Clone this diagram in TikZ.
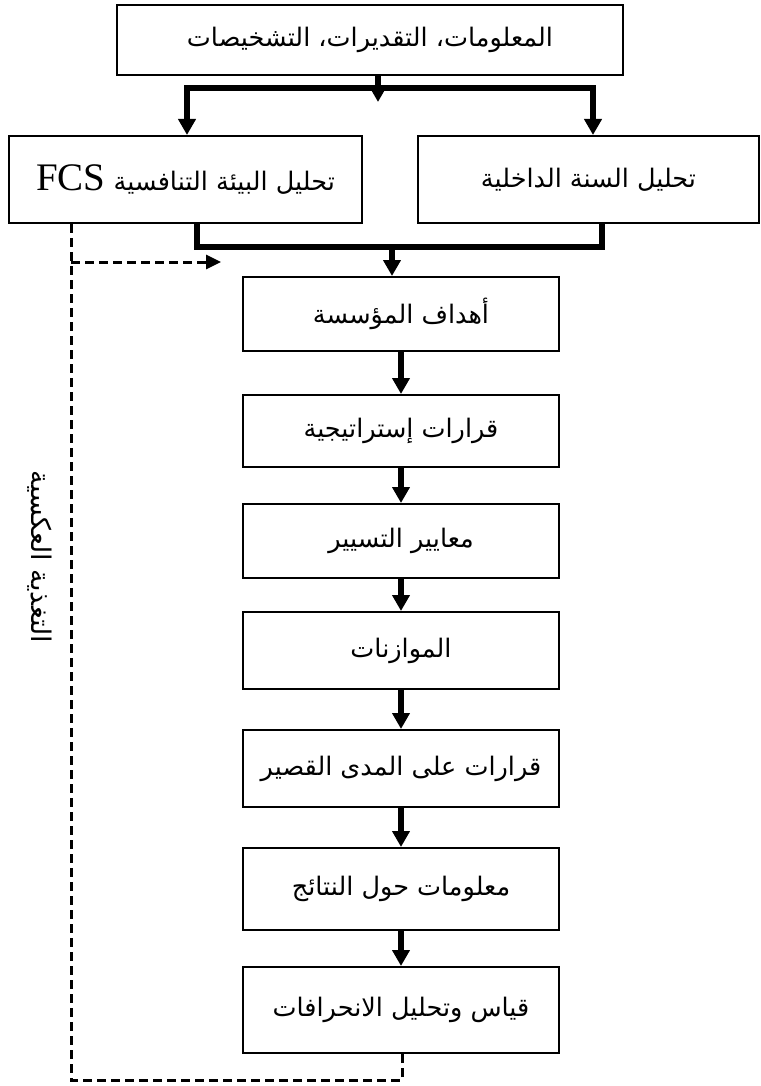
\documentclass[tikz,border=0pt]{standalone}
\usepackage{fontspec}
\setmainfont{Liberation Serif}
\newfontfamily\arabicfont[Script=Arabic]{DejaVu Sans}
\newfontfamily\latinserif{Liberation Serif}
\TeXXeTstate=1
\usetikzlibrary{arrows.meta}

\begin{document}
\begin{tikzpicture}[x=1pt, y=-1pt,
  box/.style={draw, line width=2pt, inner sep=0pt, align=center,
    font=\arabicfont\fontsize{25.5}{30}\selectfont},
  flow/.style={line width=5.5pt, line join=miter,
    -{Triangle[width=17pt,length=16pt]}},
  link/.style={line width=5.5pt, line join=miter},
  fb/.style={line width=3pt, dash pattern=on 9pt off 5pt},
  fbarrow/.style={fb, -{Triangle[width=14pt,length=15pt]}},
]
\useasboundingbox (0,0) rectangle (760,1086);

% top source box
\node[box, minimum width=506pt, minimum height=70pt] (info) at (370,40)
  {\beginR المعلومات، التقديرات، التشخيصات\endR};

% the two analysis boxes
\node[box, minimum width=353pt, minimum height=87pt] (env) at (185.5,179.5)
  {\beginR تحليل البيئة التنافسية \beginL{\latinserif\fontsize{39}{42}\selectfont FCS}\endL\endR};
\node[box, minimum width=341pt, minimum height=87pt] (int) at (588.5,179.5)
  {\beginR تحليل السنة الداخلية\endR};

% main chain
\node[box, minimum width=316pt, minimum height=74pt] (b1) at (401,314)
  {\beginR أهداف المؤسسة\endR};
\node[box, minimum width=316pt, minimum height=72pt] (b2) at (401,431)
  {\beginR قرارات إستراتيجية\endR};
\node[box, minimum width=316pt, minimum height=74pt] (b3) at (401,541)
  {\beginR معايير التسيير\endR};
\node[box, minimum width=316pt, minimum height=77pt] (b4) at (401,650.5)
  {\beginR الموازنات\endR};
\node[box, minimum width=316pt, minimum height=77pt] (b5) at (401,768.5)
  {\beginR قرارات على المدى القصير\endR};
\node[box, minimum width=316pt, minimum height=82pt] (b6) at (401,889)
  {\beginR معلومات حول النتائج\endR};
\node[box, minimum width=316pt, minimum height=86pt] (b7) at (401,1010)
  {\beginR قياس وتحليل الانحرافات\endR};

% feedback label
\node[rotate=-90, font=\arabicfont\fontsize{27}{30}\selectfont] (fblabel) at (40,557)
  {\beginR التغذية العكسية\endR};

% split below the source box
\coordinate (hub) at (378,102);
\coordinate (splitL) at (187,88);
\coordinate (splitR) at (593,88);
\draw[flow] (splitR) -- (splitL) -- (splitL |- env.north);
\draw[flow] (splitL) -- (splitR) -- (splitR |- int.north);
\draw[flow] (hub |- info.south) -- (hub);

% merge of the two analyses
\coordinate (mergeL) at (197,247);
\coordinate (mergeR) at (602,247);
\coordinate (mergeM) at (392,247);
\draw[link] (env.south -| mergeL) -- (mergeL) -- (mergeR) -- (int.south -| mergeR);
\draw[flow] (mergeM) -- (mergeM |- b1.north);

% chain arrows
\draw[flow] (b1) -- (b2);
\draw[flow] (b2) -- (b3);
\draw[flow] (b3) -- (b4);
\draw[flow] (b4) -- (b5);
\draw[flow] (b5) -- (b6);
\draw[flow] (b6) -- (b7);

% feedback loop
\coordinate (fbCorner) at (71,1080);
\coordinate (fbEnd) at (402,1080);
\coordinate (fbTee) at (71,262);
\coordinate (fbTip) at (221,262);
\draw[fb] (env.south -| fbCorner) -- (fbCorner) -- (fbEnd) -- (fbEnd |- b7.south);
\draw[fbarrow] (fbTee) -- (fbTip);
\end{tikzpicture}
\end{document}
